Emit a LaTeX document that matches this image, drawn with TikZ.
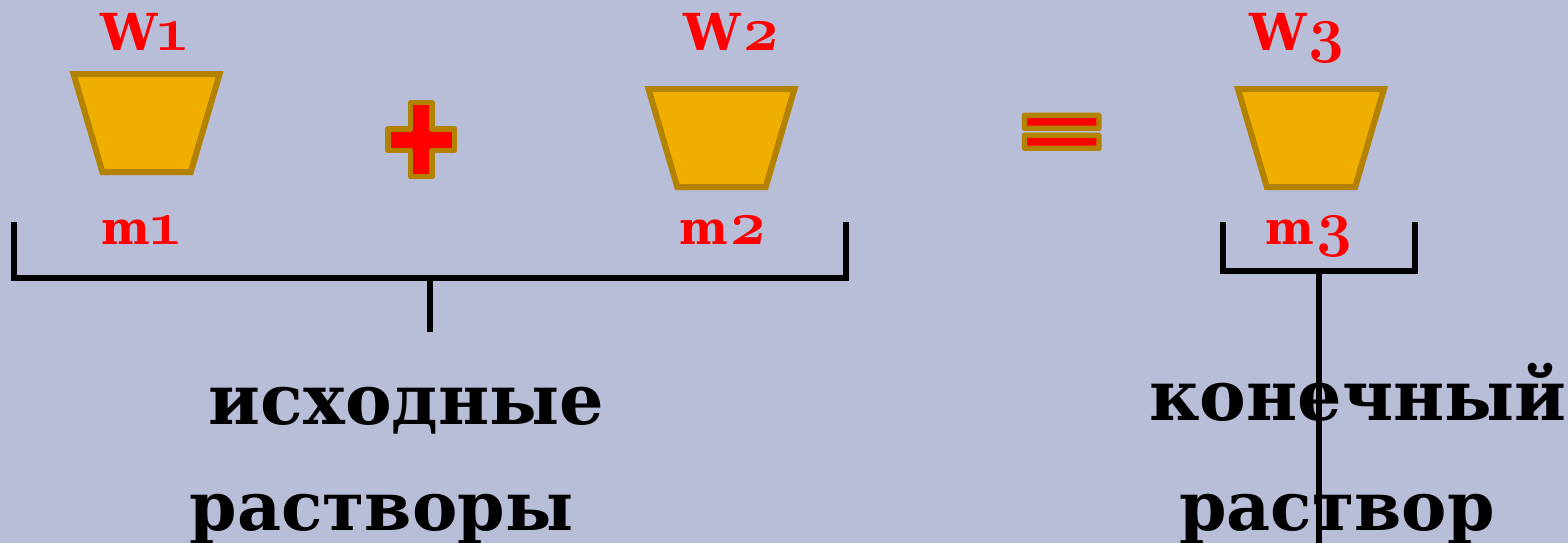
\documentclass[tikz,border=0pt]{standalone}
\usepackage{fontspec}
\setmainfont{DejaVu Serif}
\newfontfamily\digitfont[Numbers=OldStyle]{Latin Modern Roman}
\usetikzlibrary{positioning, calc}

\definecolor{backcolor}{RGB}{184,189,216}
\definecolor{vatfill}{RGB}{240,174,0}
\definecolor{vatline}{RGB}{178,130,0}

\newcommand{\dig}[1]{{\digitfont\fontsize{63}{63}\selectfont\bfseries #1}}

\begin{document}
\begin{tikzpicture}[
		x=1pt, y=-1pt,
		vat/.style = {draw=vatline, fill=vatfill, line width=6pt, line join=miter},
		sign/.style = {draw=vatline, fill=red, line width=5.3pt, line join=round},
		bar/.style = {draw=vatline, fill=red, line width=5.3pt, rounded corners=0.5pt, minimum width=74.6pt, minimum height=13pt, inner sep=0pt},
		qtyw/.style = {text=red, font=\fontsize{51}{60}\selectfont\bfseries, anchor=base, inner sep=0pt},
		qtym/.style = {text=red, font=\fontsize{46}{60}\selectfont\bfseries, anchor=base, inner sep=0pt},
		caption/.style = {text=black, font=\fontsize{70}{80}\selectfont\bfseries, anchor=base, inner sep=0pt},
		captionlow/.style = {caption, font=\fontsize{68}{80}\selectfont\bfseries},
		brace/.style = {draw=black, line width=6pt, line cap=butt, line join=miter}
		]
		
		% --- FONDO ---
		\fill [backcolor] (0,0) rectangle (1568,543);
		\useasboundingbox (0,0) rectangle (1568,543);
		
		% --- RECIPIENTES ---
		\foreach \px/\py in {146.6/123, 721.5/138, 1311/138} {
			\draw [vat] (\px-73,\py-49) -- (\px+73,\py-49) -- (\px+44.2,\py+49) -- (\px-44.2,\py+49) -- cycle;
		}
		
		% --- ETIQUETAS ---
		\node [qtyw] (w1) at (144, 51)   {W\dig{1}};
		\node [qtyw] (w2) at (732, 51)   {W\dig{2}};
		\node [qtyw] (w3) at (1298, 51)  {W\dig{3}};
		\node [qtym] (m1) at (141, 244)  {m\dig{1}};
		\node [qtym] (m2) at (723.5, 244) {m\dig{2}};
		\node [qtym] (m3) at (1310, 244) {m\dig{3}};
		
		% --- SIGNOS ---
		\draw [sign] (410.7,102.4) -- (432,102.4) -- (432,129) -- (454.6,129) -- (454.6,150.3) -- (432,150.3)
			-- (432,176.6) -- (410.7,176.6) -- (410.7,150.3) -- (388,150.3) -- (388,129) -- (410.7,129) -- cycle;
		\node [bar] (eq_top) at (1061.7, 121.8) {};
		\node [bar] (eq_bot) at (1061.7, 141.8) {};
		
		% --- CORCHETES ---
		\coordinate (left_a) at (14.3, 222);
		\coordinate (left_b) at (846, 222);
		\coordinate (left_stem) at (430, 332);
		\draw [brace] (left_a) -- (left_a |- 0,278) -- (left_b |- 0,278) -- (left_b);
		\draw [brace] (left_stem |- 0,278) -- (left_stem);
		
		\coordinate (right_a) at (1223.3, 222);
		\coordinate (right_b) at (1415, 222);
		\coordinate (right_stem) at (1319.3, 543);
		\draw [brace] (right_a) -- (right_a |- 0,271) -- (right_b |- 0,271) -- (right_b);
		
		% --- TEXTOS ---
		\node [caption] (src1) at (406.5, 424) {исходные};
		\node [captionlow] (src2) at (381.5, 530) {растворы};
		\node [caption] (end1) at (1358, 420)  {конечный};
		\node [captionlow] (end2) at (1337, 530)  {раствор};
		
		% Linea vertical por encima del texto
		\draw [brace] (right_stem |- 0,271) -- (right_stem);
		
	\end{tikzpicture}
\end{document}
